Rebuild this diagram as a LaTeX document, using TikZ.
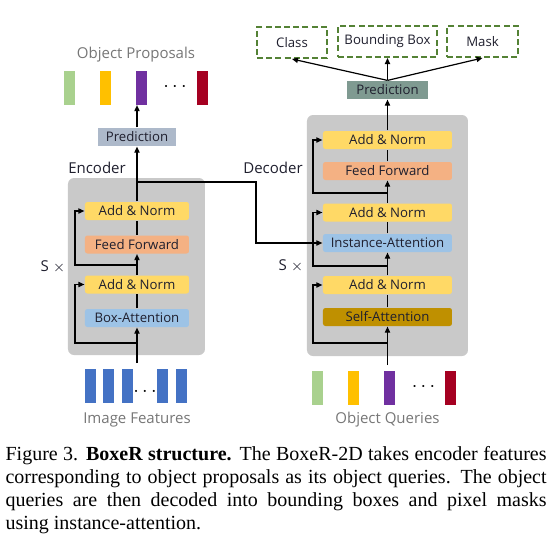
\documentclass[tikz,border=0pt]{standalone}
\usepackage{fontspec}
\setmainfont{Liberation Serif}
\newfontfamily\diagfont{Open Sans}
\usepackage{xcolor}
\usepackage{tikz}
\usetikzlibrary{arrows.meta}

\definecolor{cellgray}{HTML}{C9C9C9}
\definecolor{addnorm}{HTML}{FFD966}
\definecolor{feedfwd}{HTML}{F4B183}
\definecolor{attblue}{HTML}{9DC3E6}
\definecolor{selfatt}{HTML}{BF9000}
\definecolor{encpred}{HTML}{ADB9CA}
\definecolor{decpred}{HTML}{7F9A91}
\definecolor{outgreen}{HTML}{548235}
\definecolor{featblue}{HTML}{4472C4}
\definecolor{qgreen}{HTML}{A9D18E}
\definecolor{qyellow}{HTML}{FFC000}
\definecolor{qpurple}{HTML}{7030A0}
\definecolor{qred}{HTML}{A50021}
\definecolor{labgray}{HTML}{767676}
\definecolor{txtdark}{HTML}{1F1F2E}

\begin{document}
\begin{tikzpicture}[x=0.5pt, y=-0.5pt, line width=0.6pt,
    >={Triangle[length=3pt, width=2.6pt]},
    blk/.style={rounded corners=1.2pt, inner sep=0pt, minimum height=9pt,
      text=txtdark, font=\diagfont\fontsize{6.6}{7}\selectfont},
    enc/.style={blk, minimum width=52pt},
    dec/.style={blk, minimum width=64.5pt},
    pred/.style={blk, rounded corners=0pt, minimum height=9pt},
    outbox/.style={draw=outgreen, line width=1pt, dash pattern=on 3pt off 1.6pt,
      minimum height=15.5pt, inner sep=0pt, text=txtdark,
      font=\diagfont\fontsize{6.6}{7}\selectfont},
    bar/.style={inner sep=0pt, minimum width=5.5pt, minimum height=17pt},
    lab/.style={text=labgray, inner sep=0pt, font=\diagfont\fontsize{7.5}{8}\selectfont},
    side/.style={text=txtdark, inner sep=0pt, font=\diagfont\fontsize{7.5}{8}\selectfont}]
    \useasboundingbox (0,0) rectangle (559,542);

    % gray cells
    \fill[cellgray, rounded corners=3pt] (68,178) rectangle (205,355);
    \fill[cellgray, rounded corners=3pt] (307,115) rectangle (468,356);

    % encoder
    \node[enc, fill=attblue] (ebox) at (137,318) {Box-Attention};
    \node[enc, fill=addnorm] (ean1) at (137,284.5) {Add \& Norm};
    \node[enc, fill=feedfwd] (eff)  at (137,244.5) {Feed Forward};
    \node[enc, fill=addnorm] (ean2) at (137,211) {Add \& Norm};
    \node[pred, fill=encpred, minimum width=39pt] (epred) at (137,137) {Prediction};
    \node[side] (enclab) at (97,168) {Encoder};
    \node[side] (encrep) at (53,267) {S $\times$};

    % decoder
    \node[dec, fill=selfatt] (dself) at (387.5,317) {Self-Attention};
    \node[dec, fill=addnorm] (dan1)  at (387.5,285) {Add \& Norm};
    \node[dec, fill=attblue] (dinst) at (387.5,243) {Instance-Attention};
    \node[dec, fill=addnorm] (dan2)  at (387.5,212.5) {Add \& Norm};
    \node[dec, fill=feedfwd] (dff)   at (387.5,171) {Feed Forward};
    \node[dec, fill=addnorm] (dan3)  at (387.5,140) {Add \& Norm};
    \node[pred, fill=decpred, minimum width=40.5pt] (dpred) at (387.5,90) {Prediction};
    \node[side] (declab) at (273,168) {Decoder};
    \node[side] (decrep) at (291,266) {S $\times$};

    % outputs
    \node[outbox, minimum width=35pt] (cls)  at (292,42.5) {Class};
    \node[outbox, minimum width=49.5pt] (bbox) at (387.5,41.5) {Bounding Box};
    \node[outbox, minimum width=35.5pt] (mask) at (482.5,41.5) {Mask};

    % object proposals
    \node[bar, fill=qgreen]  (op1) at (69.5,87.5) {};
    \node[bar, fill=qyellow] (op2) at (105.5,87.5) {};
    \node[bar, fill=qpurple] (op3) at (141.5,87.5) {};
    \node[inner sep=0pt] (opd) at (175,87) {$\cdots$};
    \node[bar, fill=qred]    (op4) at (202.5,87.5) {};
    \node[lab] (oplab) at (136,55) {Object Proposals};

    % image features
    \node[bar, fill=featblue] (if1) at (90.5,385.5) {};
    \node[bar, fill=featblue] (if2) at (109,385.5) {};
    \node[bar, fill=featblue] (if3) at (127.5,385.5) {};
    \node[inner sep=0pt] (ifd) at (145,391) {$\ldots$};
    \node[bar, fill=featblue] (if4) at (162.5,385.5) {};
    \node[bar, fill=featblue] (if5) at (181.5,385.5) {};
    \node[lab] (iflab) at (137,420) {Image Features};

    % object queries
    \node[bar, fill=qgreen]  (oq1) at (318,387.5) {};
    \node[bar, fill=qyellow] (oq2) at (354,387.5) {};
    \node[bar, fill=qpurple] (oq3) at (390,387.5) {};
    \node[inner sep=0pt] (oqd) at (423.5,387) {$\cdots$};
    \node[bar, fill=qred]    (oq4) at (451,387.5) {};
    \node[lab] (oqlab) at (387.5,420) {Object Queries};

    % encoder flow
    \coordinate (ein)   at (137,363);
    \coordinate (eres1) at (137,343);
    \coordinate (eres2) at (137,265);
    \coordinate (eout)  at (137,182);
    \coordinate (eturn) at (256,182);
    \draw[->] (ein) -- (ebox);
    \draw (ebox) -- (ean1);
    \draw[->] (ean1) -- (eff);
    \draw (eff) -- (ean2);
    \draw[->] (ean2) -- (epred);
    \draw[->] (epred) -- (epred.north |- op3.south);
    \draw[->] (eres1) -- ++(-62,0) |- (ean1.west);
    \draw[->] (eres2) -- ++(-62,0) |- (ean2.west);
    \draw[->] (eout) -- (eturn) |- (dinst.west);

    % decoder flow
    \coordinate (din)   at (387.5,365);
    \coordinate (dres1) at (387.5,343);
    \coordinate (dres2) at (387.5,266);
    \coordinate (dres3) at (387.5,193);
    \draw[->] (din) -- (dself);
    \draw (dself) -- (dan1);
    \draw[->] (dan1) -- (dinst);
    \draw (dinst) -- (dan2);
    \draw[->] (dan2) -- (dff);
    \draw (dff) -- (dan3);
    \draw[->] (dan3) -- (dpred);
    \draw[->] (dres1) -- ++(-74.5,0) |- (dan1.west);
    \draw[->] (dres2) -- ++(-74.5,0) |- (dan2.west);
    \draw[->] (dres3) -- ++(-74.5,0) |- (dan3.west);
    \draw[->] (dpred.north) -- (cls.south);
    \draw[->] (dpred.north) -- (bbox.south);
    \draw[->] (dpred.north) -- (mask.south);

    % caption
    \node[anchor=north west, inner sep=0pt, text width=270.5pt, align=justify,
      font=\fontsize{10}{11.5}\selectfont] (caption) at (5,446)
      {Figure 3. \textbf{BoxeR structure.} The BoxeR-2D takes encoder features\linebreak
       corresponding to object proposals as its object queries. The object\linebreak
       queries are then decoded into bounding boxes and pixel masks\linebreak
       using instance-attention.};
\end{tikzpicture}
\end{document}
